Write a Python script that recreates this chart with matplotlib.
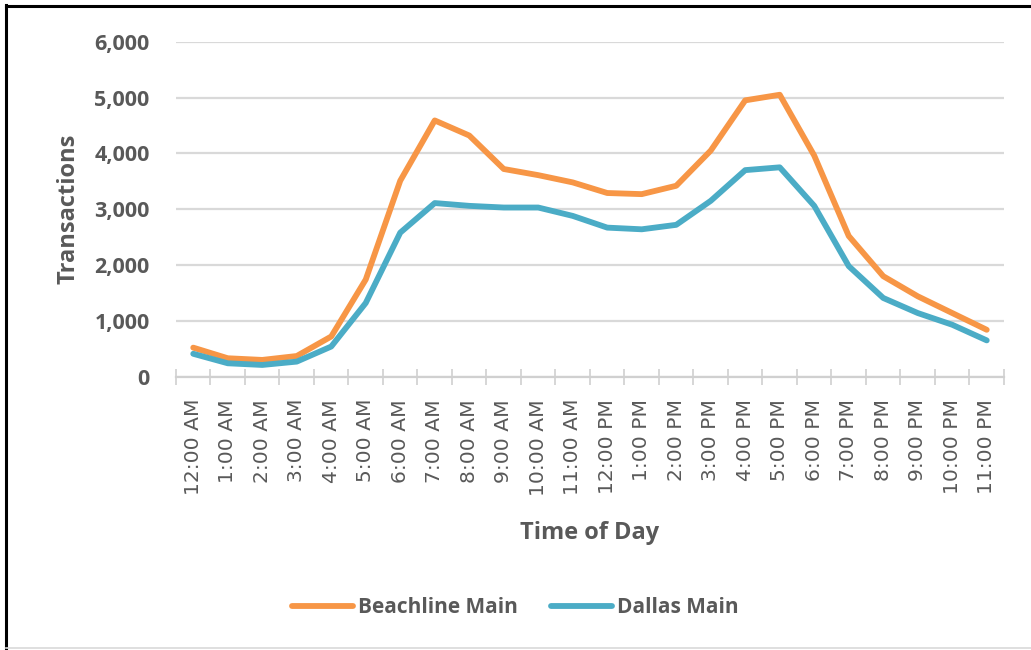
import matplotlib
matplotlib.use("Agg")
import matplotlib.pyplot as plt
from matplotlib.lines import Line2D
from matplotlib.ticker import FuncFormatter

hours = ["12:00 AM", "1:00 AM", "2:00 AM", "3:00 AM", "4:00 AM", "5:00 AM",
         "6:00 AM", "7:00 AM", "8:00 AM", "9:00 AM", "10:00 AM", "11:00 AM",
         "12:00 PM", "1:00 PM", "2:00 PM", "3:00 PM", "4:00 PM", "5:00 PM",
         "6:00 PM", "7:00 PM", "8:00 PM", "9:00 PM", "10:00 PM", "11:00 PM"]
beachline = [520, 330, 300, 370, 720, 1740, 3510, 4590, 4320, 3720, 3610, 3480,
             3290, 3270, 3420, 4050, 4950, 5050, 3960, 2520, 1800, 1440, 1140, 840]
dallas = [410, 240, 210, 270, 540, 1320, 2580, 3110, 3060, 3030, 3030, 2880,
          2670, 2640, 2720, 3150, 3700, 3750, 3060, 1980, 1410, 1140, 930, 650]
y_ticks = [0, 1000, 2000, 3000, 4000, 5000, 6000]

text_color = "#595959"
orange = "#F79646"
aqua = "#4BACC6"

fig = plt.figure(figsize=(10.31, 6.5), dpi=100)
ax = fig.add_axes([0.1707, 0.4205, 0.8031, 0.5153])

x = list(range(len(hours)))
ax.plot(x, beachline, color=orange, lw=4.2, solid_capstyle="round",
        solid_joinstyle="round", label="Beachline Main", zorder=3)
ax.plot(x, dallas, color=aqua, lw=4.2, solid_capstyle="round",
        solid_joinstyle="round", label="Dallas Main", zorder=3)

ax.set_xlim(-0.5, len(hours) - 0.5)
ax.set_ylim(0, 6000)
ax.set_yticks(y_ticks)
ax.yaxis.set_major_formatter(FuncFormatter(lambda v, p: f"{int(v):,}"))
ax.grid(axis="y", color="#D9D9D9", lw=1.6, zorder=0)
ax.tick_params(axis="y", length=0, pad=19, labelsize=15.5, labelcolor=text_color)
for lab in ax.get_yticklabels():
    lab.set_fontweight("bold")
    lab.set_family("Open Sans")

# category labels centred, tick marks on category boundaries
ax.set_xticks(x)
ax.set_xticklabels(hours, rotation=90, fontsize=14.6, color=text_color,
                   family="DejaVu Sans")
ax.tick_params(axis="x", which="major", length=0, pad=16)
ax.set_xticks([i - 0.5 for i in range(len(hours) + 1)], minor=True)
ax.tick_params(axis="x", which="minor", length=12, width=1.2,
               direction="inout", color="#D0D0D0")

for s in ["top", "right", "left"]:
    ax.spines[s].set_visible(False)
ax.spines["bottom"].set_color("#D0D0D0")
ax.spines["bottom"].set_linewidth(1.6)

ax.set_ylabel("Transactions", fontsize=17, fontweight="bold", color=text_color,
              family="Open Sans", labelpad=10)
ax.set_xlabel("Time of Day", fontsize=17, fontweight="bold", color=text_color,
              family="Open Sans", labelpad=18)

leg = fig.legend(loc="center", bbox_to_anchor=(0.5, 0.065), ncol=2, frameon=False,
                 handlelength=2.9, handletextpad=0.25, columnspacing=1.6,
                 prop={"family": "Open Sans", "weight": "bold", "size": 15})
for t in leg.get_texts():
    t.set_color(text_color)

# frame around the chart area
fig.add_artist(Line2D([0.0058, 0.0058], [0.0, 0.993], transform=fig.transFigure,
                      color="black", lw=2.2))
fig.add_artist(Line2D([0.0058, 1.0], [0.991, 0.991], transform=fig.transFigure,
                      color="black", lw=2.2))
fig.add_artist(Line2D([0.0058, 1.0], [0.003, 0.003], transform=fig.transFigure,
                      color="#D9D9D9", lw=1.2))

fig.savefig("out.png", dpi=100)
